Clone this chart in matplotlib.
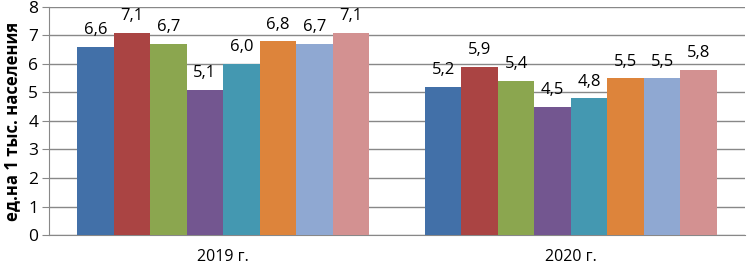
import numpy as np
import matplotlib
matplotlib.use('Agg')
import matplotlib.pyplot as plt

plt.rcParams['font.family'] = ['Open Sans', 'DejaVu Sans']

years = ['2019 г.', '2020 г.']
vals_2019 = [6.6, 7.1, 6.7, 5.1, 6.0, 6.8, 6.7, 7.1]
vals_2020 = [5.2, 5.9, 5.4, 4.5, 4.8, 5.5, 5.5, 5.8]
colors = ['#4270a8', '#aa4443', '#8ba64f', '#735690', '#4498b1',
          '#dd843b', '#8fa8d2', '#d39191']

data = np.array([vals_2019, vals_2020])
n = data.shape[1]

fig = plt.figure(figsize=(7.47, 2.65), dpi=100)
ax = fig.add_axes([0.066, 0.113, 0.931, 0.861])

grp = 0.84
w = grp / n
x = np.arange(len(years))
for i in range(n):
    xs = x - grp / 2 + w * (i + 0.5)
    ax.bar(xs, data[:, i], width=w, color=colors[i], zorder=3)
    for xx, v in zip(xs, data[:, i]):
        ax.text(xx, v + 0.3, ('%.1f' % v).replace('.', ','),
                ha='center', va='bottom', fontsize=12, zorder=4)

ax.set_xlim(-0.5, 1.5)
ax.set_ylim(0, 8)
ax.set_yticks(range(0, 9))
ax.set_xticks(x)
ax.set_xticklabels(years, fontsize=11.5)
ax.tick_params(axis='x', length=0, pad=10)
ax.tick_params(axis='y', labelsize=12.5, length=5, color='#888888', pad=3)
ax.yaxis.grid(True, color='#888888', linewidth=1, zorder=0)
for s in ['top', 'right']:
    ax.spines[s].set_visible(False)
ax.spines['left'].set_color('#888888')
ax.spines['bottom'].set_color('#888888')
ax.set_ylabel('ед.на 1 тыс. населения', fontsize=12, fontweight='bold',
              labelpad=5)

fig.savefig('out.png', dpi=100)
